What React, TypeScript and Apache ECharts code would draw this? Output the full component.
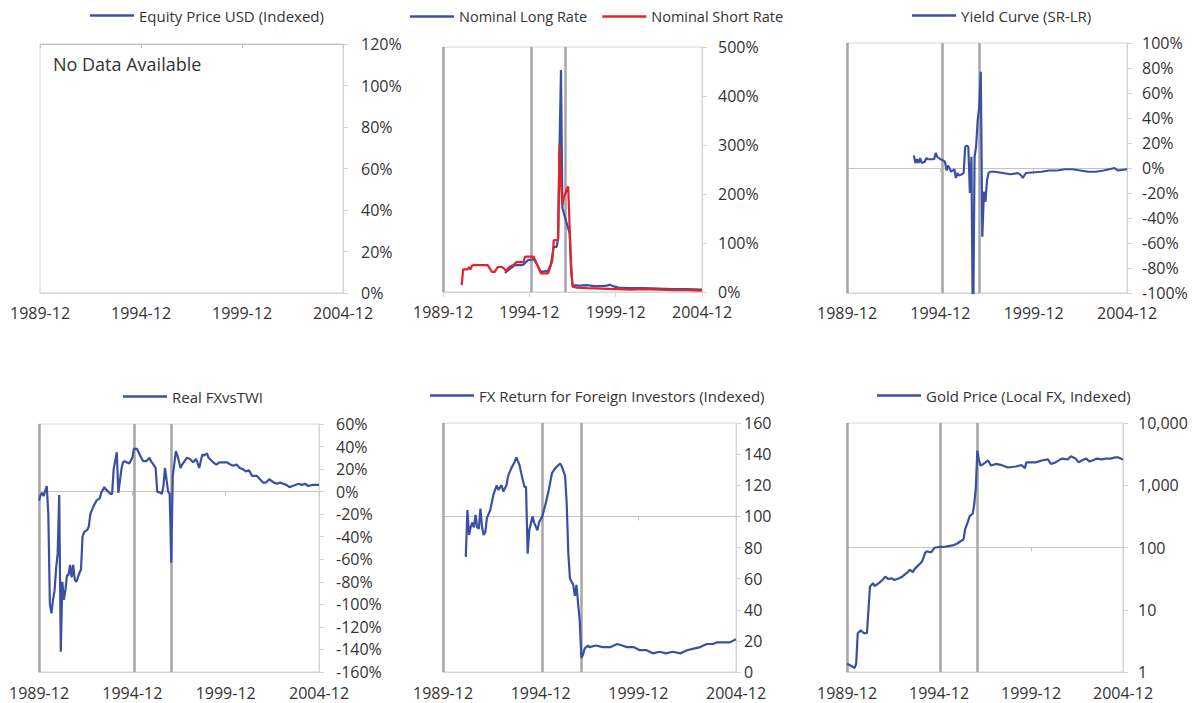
import { useEffect, useRef } from "react";
import * as echarts from "echarts";

// ---------- data ----------
const xTickLabels = ["1989-12", "1994-12", "1999-12", "2004-12"];
const eventDates = ["1989-12", "1995-01", "1997-01"];

const equityName = "Equity Price USD (Indexed)";
const longRateName = "Nominal Long Rate";
const shortRateName = "Nominal Short Rate";
const yieldCurveName = "Yield Curve (SR-LR)";
const realFxName = "Real FXvsTWI";
const fxReturnName = "FX Return for Foreign Investors (Indexed)";
const goldName = "Gold Price (Local FX, Indexed)";

const shortRateDates = [
  "1991-01", "1991-02", "1991-05", "1991-06", "1991-07", "1991-08", "1991-09", "1992-07", "1992-10", "1992-12",
  "1993-02", "1993-05", "1993-07", "1993-08", "1993-10", "1994-01", "1994-03", "1994-08", "1994-09", "1995-03",
  "1995-05", "1995-08", "1996-01", "1996-03", "1996-04", "1996-05", "1996-07", "1996-08", "1996-09", "1996-10",
  "1996-11", "1996-12", "1997-01", "1997-02", "1997-03", "1997-04", "1997-05", "1997-06", "1997-09", "1998-04",
  "1999-02", "1999-12", "2000-10", "2001-08", "2002-06", "2003-04", "2004-02", "2004-12",
];
const shortRateValues = [
  14, 46, 46, 51, 46, 53, 55, 55, 41, 41,
  51, 51, 46, 43, 51, 55, 61, 61, 72, 72,
  59, 38, 38, 55, 65, 106, 106, 108, 300, 220,
  178, 195, 200, 210, 215, 133, 60, 11, 9, 8,
  7, 6, 5, 6, 5, 4, 4, 3,
];

const longRateDates = [
  "1993-07", "1993-10", "1994-02", "1994-06", "1994-08", "1994-11", "1995-03", "1995-05", "1995-08", "1996-01",
  "1996-03", "1996-05", "1996-07", "1996-08", "1996-09", "1996-10", "1996-11", "1997-02", "1997-04", "1997-05",
  "1997-06", "1997-11", "1998-04", "1998-09", "1999-02", "1999-06", "1999-08", "1999-10", "2000-02", "2000-10",
  "2001-08", "2002-06", "2003-04", "2004-02", "2004-12",
];
const longRateValues = [
  39, 46, 55, 55, 56, 65, 67, 58, 41, 43,
  57, 92, 92, 110, 300, 453, 171, 140, 120, 45,
  14, 13, 14, 12, 12, 13, 15, 12, 9, 8,
  8, 7, 6, 6, 5,
];

const yieldCurveDates = [
  "1993-07", "1993-08", "1993-09", "1993-10", "1993-11", "1993-12", "1994-02", "1994-03", "1994-04", "1994-08",
  "1994-09", "1994-10", "1994-12", "1995-02", "1995-03", "1995-04", "1995-05", "1995-07", "1995-09", "1995-10",
  "1995-11", "1995-12", "1996-02", "1996-03", "1996-04", "1996-05", "1996-06", "1996-07", "1996-08", "1996-09",
  "1996-10", "1996-11", "1996-12", "1997-01", "1997-02", "1997-03", "1997-04", "1997-05", "1997-06", "1997-07",
  "1997-08", "1997-11", "1998-04", "1998-09", "1999-02", "1999-04", "1999-05", "1999-07", "2000-05", "2000-10",
  "2001-03", "2001-08", "2002-01", "2002-06", "2002-11", "2003-04", "2003-09", "2004-04", "2004-06", "2004-12",
];
const yieldCurveValues = [
  10, 4, 7, 4, 8, 4, 5, 8, 7, 7,
  12, 9, 7, 6, 5, -2, 2, -3, -1, -8,
  -4, -6, -5, -4, 17, 18, 17, -20, 9, -150,
  9, 17, 38, 49, 77, -55, -19, -27, -10, -4,
  -3, -3, -4, -5, -4, -6, -8, -4, -3, -2,
  -2, -1, -1, -2, -3, -3, -2, 0, -2, -1,
];

const realFxDates = [
  "1989-12", "1990-01", "1990-02", "1990-03", "1990-04", "1990-05", "1990-06", "1990-07", "1990-08", "1990-09",
  "1990-10", "1990-11", "1990-12", "1991-01", "1991-02", "1991-03", "1991-04", "1991-05", "1991-06", "1991-07",
  "1991-08", "1991-09", "1991-10", "1991-11", "1991-12", "1992-01", "1992-02", "1992-03", "1992-04", "1992-05",
  "1992-07", "1992-08", "1992-09", "1992-11", "1993-01", "1993-03", "1993-04", "1993-06", "1993-07", "1993-10",
  "1993-11", "1993-12", "1994-02", "1994-03", "1994-05", "1994-06", "1994-07", "1994-10", "1994-12", "1995-01",
  "1995-03", "1995-04", "1995-05", "1995-07", "1995-09", "1995-11", "1995-12", "1996-03", "1996-04", "1996-06",
  "1996-07", "1996-08", "1996-09", "1996-11", "1996-12", "1997-01", "1997-02", "1997-04", "1997-05", "1997-07",
  "1997-08", "1997-11", "1998-01", "1998-03", "1998-05", "1998-07", "1998-09", "1998-10", "1998-12", "1999-01",
  "1999-04", "1999-06", "1999-08", "2000-01", "2000-03", "2000-05", "2000-07", "2000-09", "2000-11", "2001-01",
  "2001-03", "2001-05", "2001-08", "2001-10", "2001-12", "2002-02", "2002-04", "2002-07", "2002-09", "2002-11",
  "2003-01", "2003-03", "2003-05", "2003-07", "2003-11", "2004-01", "2004-03", "2004-05", "2004-08", "2004-10",
  "2004-12",
];
const realFxValues = [
  -8, -3, -1, -4, 1, 5, -20, -100, -108, -96,
  -88, -68, -55, -3, -142, -80, -96, -87, -74, -74,
  -65, -76, -65, -78, -80, -76, -72, -69, -40, -36,
  -34, -31, -20, -13, -8, -6, -1, 4, 2, -2,
  -2, 20, 35, -1, 20, 26, 27, 25, 30, 38,
  38, 35, 32, 27, 27, 30, 27, 21, 0, -1,
  -2, 5, 21, 0, -2, -63, 14, 36, 32, 21,
  24, 30, 29, 26, 29, 21, 33, 32, 34, 30,
  26, 24, 26, 26, 24, 23, 24, 21, 20, 18,
  19, 14, 14, 11, 8, 8, 11, 8, 7, 8,
  7, 6, 4, 5, 7, 6, 7, 5, 6, 6,
  6,
];

const fxReturnDates = [
  "1991-02", "1991-03", "1991-04", "1991-05", "1991-06", "1991-07", "1991-08", "1991-09", "1991-10", "1991-11",
  "1991-12", "1992-01", "1992-02", "1992-03", "1992-05", "1992-07", "1992-09", "1992-10", "1992-12", "1993-01",
  "1993-03", "1993-04", "1993-06", "1993-08", "1993-09", "1993-11", "1993-12", "1994-02", "1994-03", "1994-04",
  "1994-05", "1994-07", "1994-08", "1994-10", "1994-11", "1995-01", "1995-03", "1995-05", "1995-07", "1995-09",
  "1995-11", "1995-12", "1996-01", "1996-03", "1996-04", "1996-05", "1996-06", "1996-08", "1996-09", "1996-10",
  "1996-11", "1996-12", "1997-01", "1997-02", "1997-03", "1997-05", "1997-06", "1997-10", "1998-02", "1998-07",
  "1998-11", "1999-02", "1999-05", "1999-09", "2000-01", "2000-05", "2000-09", "2001-01", "2001-05", "2001-09",
  "2002-02", "2002-06", "2002-10", "2003-02", "2003-06", "2003-10", "2003-12", "2004-04", "2004-08", "2004-10",
  "2004-12",
];
const fxReturnValues = [
  74, 104, 88, 93, 96, 93, 101, 93, 92, 105,
  93, 88, 90, 99, 104, 114, 120, 117, 120, 116,
  120, 126, 131, 135, 138, 133, 128, 119, 119, 76,
  91, 100, 96, 91, 96, 100, 108, 117, 128, 131,
  133, 134, 132, 126, 108, 76, 60, 56, 49, 56,
  44, 33, 9, 11, 15, 17, 16, 17, 16, 16,
  18, 17, 16, 16, 14, 14, 12, 13, 12, 13,
  12, 14, 15, 16, 18, 18, 19, 19, 19, 20,
  21,
];

const goldDates = [
  "1989-12", "1990-02", "1990-04", "1990-05", "1990-06", "1990-07", "1990-08", "1990-09", "1990-11", "1991-01",
  "1991-02", "1991-03", "1991-04", "1991-05", "1991-06", "1991-09", "1991-11", "1992-01", "1992-03", "1992-05",
  "1992-07", "1992-10", "1992-12", "1993-03", "1993-05", "1993-07", "1993-08", "1993-11", "1994-01", "1994-03",
  "1994-04", "1994-06", "1994-07", "1994-09", "1994-12", "1995-03", "1995-06", "1995-09", "1995-12", "1996-02",
  "1996-04", "1996-05", "1996-07", "1996-08", "1996-10", "1996-11", "1996-12", "1997-01", "1997-02", "1997-03",
  "1997-05", "1997-08", "1997-10", "1998-01", "1998-05", "1998-09", "1999-02", "1999-06", "1999-08", "1999-09",
  "2000-03", "2000-07", "2000-11", "2001-01", "2001-04", "2001-08", "2001-12", "2002-02", "2002-05", "2002-07",
  "2002-09", "2002-12", "2003-02", "2003-04", "2003-07", "2003-10", "2004-01", "2004-04", "2004-07", "2004-09",
  "2004-12",
];
const goldValues = [
  1.36, 1.28, 1.2, 1.16, 1.36, 4.2, 4.4, 4.7, 4.2, 4.2,
  10, 23.7, 25, 26.8, 24, 27, 30, 34, 31, 32,
  30, 32, 34, 39, 44, 40, 45, 53, 60, 82,
  87, 84, 84, 99, 102, 102, 105, 108, 116, 126,
  134, 195, 265, 320, 350, 500, 900, 3600, 2600, 2070,
  2200, 2500, 2070, 2200, 2100, 1930, 2000, 2100, 1870, 2330,
  2330, 2500, 2600, 2200, 2330, 2680, 2600, 2930, 2700, 2330,
  2500, 2700, 2400, 2500, 2680, 2600, 2680, 2680, 2800, 2800,
  2600,
];

// ---------- helpers ----------
const BLUE = "#3B50A2";
const RED = "#E3232A";
const BORDER = "#D4D4D4";
const EVENT = "#A6A6A6";
const TEXT = "#333333";
const FONT = "'Open Sans', 'DejaVu Sans', sans-serif";

const monthIdx = (d: string) => {
  const [y, m] = d.split("-").map(Number);
  return (y - 1989) * 12 + (m - 12);
};
const pairs = (dates: string[], vals: number[]) => dates.map((d, i) => [monthIdx(d), vals[i]]);
const pct = (v: number) => `${v}%`;

type Panel = {
  grid: { left: number; top: number; width: number; height: number };
  yType: "value" | "log";
  yMin: number;
  yMax: number;
  yInterval?: number;
  yFmt: (v: number) => string;
  yMargin: number;
  xMargin: number;
  cross: number | null; // value where the category axis crosses
  legend: { x: number; y: number; names: string[]; size: number };
  events: boolean;
  bottomTicks: boolean;
};

const panels: Panel[] = [
  {
    grid: { left: 40, top: 44, width: 303, height: 249 },
    yType: "value", yMin: 0, yMax: 120, yInterval: 20, yFmt: pct, yMargin: 18, xMargin: 12,
    cross: 120, legend: { x: 90, y: 16, names: [equityName], size: 15 }, events: false, bottomTicks: false,
  },
  {
    grid: { left: 443, top: 47, width: 259, height: 245 },
    yType: "value", yMin: 0, yMax: 500, yInterval: 100, yFmt: pct, yMargin: 16, xMargin: 12,
    cross: null, legend: { x: 410, y: 17, names: [longRateName, shortRateName], size: 14.5 }, events: true, bottomTicks: true,
  },
  {
    grid: { left: 847, top: 43, width: 280, height: 250 },
    yType: "value", yMin: -100, yMax: 100, yInterval: 20, yFmt: pct, yMargin: 15, xMargin: 12,
    cross: 0, legend: { x: 912, y: 16, names: [yieldCurveName], size: 15 }, events: true, bottomTicks: false,
  },
  {
    grid: { left: 39, top: 424, width: 280, height: 248 },
    yType: "value", yMin: -160, yMax: 60, yInterval: 20, yFmt: pct, yMargin: 17, xMargin: 13,
    cross: 0, legend: { x: 123, y: 397, names: [realFxName], size: 15 }, events: true, bottomTicks: false,
  },
  {
    grid: { left: 443, top: 423, width: 293, height: 249 },
    yType: "value", yMin: 0, yMax: 160, yInterval: 20, yFmt: (v) => `${v}`, yMargin: 8, xMargin: 13,
    cross: 100, legend: { x: 430, y: 396, names: [fxReturnName], size: 15 }, events: true, bottomTicks: false,
  },
  {
    grid: { left: 847, top: 423, width: 276, height: 249 },
    yType: "log", yMin: 1, yMax: 10000, yFmt: (v) => v.toLocaleString("en-US"), yMargin: 15, xMargin: 13,
    cross: 100, legend: { x: 877, y: 396, names: [goldName], size: 15 }, events: true, bottomTicks: false,
  },
];

const crossOffset = (p: Panel) => {
  if (p.cross === null) return 0;
  const frac =
    p.yType === "log"
      ? (Math.log10(p.cross) - Math.log10(p.yMin)) / (Math.log10(p.yMax) - Math.log10(p.yMin))
      : (p.cross - p.yMin) / (p.yMax - p.yMin);
  return -p.grid.height * frac;
};

function buildOption() {
  const grid = panels.map((p) => ({
    ...p.grid,
    show: true,
    borderColor: BORDER,
    borderWidth: 1,
    backgroundColor: "transparent",
  }));

  const xAxis: any[] = [];
  panels.forEach((p, i) => {
    xAxis.push({
      type: "value",
      gridIndex: i,
      min: 0,
      max: 180,
      interval: 60,
      position: "bottom",
      axisLine: { show: true, onZero: false, lineStyle: { color: BORDER, width: 1 } },
      axisTick: { show: p.bottomTicks, length: 5, lineStyle: { color: BORDER } },
      axisLabel: {
        show: true,
        formatter: (v: number) => xTickLabels[Math.round(v / 60)] ?? "",
        fontSize: 16,
        color: TEXT,
        fontFamily: FONT,
        margin: p.xMargin,
      },
      splitLine: { show: false },
    });
    xAxis.push({
      type: "value",
      gridIndex: i,
      min: 0,
      max: 180,
      interval: 60,
      position: "bottom",
      offset: crossOffset(p),
      show: p.cross !== null,
      axisLine: { show: true, onZero: false, lineStyle: { color: "#C4C4C4", width: 1 } },
      axisTick: { show: true, length: 4, lineStyle: { color: "#C4C4C4" } },
      axisLabel: { show: false },
      splitLine: { show: false },
    });
  });

  const yAxis = panels.map((p, i) => ({
    type: p.yType,
    gridIndex: i,
    position: "right",
    min: p.yMin,
    max: p.yMax,
    ...(p.yInterval ? { interval: p.yInterval } : { logBase: 10 }),
    axisLine: { show: true, onZero: false, lineStyle: { color: BORDER } },
    axisTick: { show: true, length: 5, lineStyle: { color: BORDER } },
    splitLine: { show: false },
    axisLabel: {
      formatter: p.yFmt,
      fontSize: 16,
      color: TEXT,
      fontFamily: FONT,
      margin: p.yMargin,
    },
  }));

  const lineSeries = (name: string, i: number, data: number[][], color: string) => ({
    type: "line",
    name,
    xAxisIndex: 2 * i,
    yAxisIndex: i,
    data,
    showSymbol: false,
    symbol: "none",
    color,
    lineStyle: { color, width: 2.2 },
    z: 3,
    clip: true,
  });

  const series: any[] = [
    lineSeries(equityName, 0, [], BLUE),
    lineSeries(longRateName, 1, pairs(longRateDates, longRateValues), BLUE),
    lineSeries(shortRateName, 1, pairs(shortRateDates, shortRateValues), RED),
    lineSeries(yieldCurveName, 2, pairs(yieldCurveDates, yieldCurveValues), BLUE),
    lineSeries(realFxName, 3, pairs(realFxDates, realFxValues), BLUE),
    lineSeries(fxReturnName, 4, pairs(fxReturnDates, fxReturnValues), BLUE),
    lineSeries(goldName, 5, pairs(goldDates, goldValues), BLUE),
  ];

  panels.forEach((p, i) => {
    if (!p.events) return;
    series.push({
      type: "line",
      name: `events-${i}`,
      xAxisIndex: 2 * i,
      yAxisIndex: i,
      data: [],
      z: 1,
      markLine: {
        silent: true,
        z: 1,
        symbol: ["none", "none"],
        label: { show: false },
        lineStyle: { color: EVENT, width: 2.5, type: "solid" },
        emphasis: { disabled: true },
        data: eventDates.map((d) => ({ xAxis: monthIdx(d) })),
      },
    });
  });

  const legend = panels.map((p) => ({
    data: p.legend.names,
    left: p.legend.x,
    top: p.legend.y - 8,
    padding: 0,
    icon: "rect",
    itemWidth: 44,
    itemHeight: 2.5,
    itemGap: 15,
    selectedMode: false,
    textStyle: { fontSize: p.legend.size, color: TEXT, fontFamily: FONT },
  }));

  return {
    animation: false,
    backgroundColor: "#ffffff",
    grid,
    xAxis,
    yAxis,
    legend,
    series,
    graphic: [
      {
        type: "text",
        left: 53,
        top: 55,
        style: { text: "No Data Available", fontSize: 18, fill: TEXT, fontFamily: FONT },
      },
    ],
  };
}

export default function App() {
  const ref = useRef<HTMLDivElement>(null);
  useEffect(() => {
    if (!ref.current) return;
    const chart = echarts.init(ref.current, undefined, { renderer: "svg" });
    chart.setOption(buildOption() as any);
    return () => chart.dispose();
  }, []);
  return (
    <div
      ref={ref}
      style={{ position: "fixed", left: 0, top: 0, width: 1195, height: 703, background: "#fff" }}
    />
  );
}
